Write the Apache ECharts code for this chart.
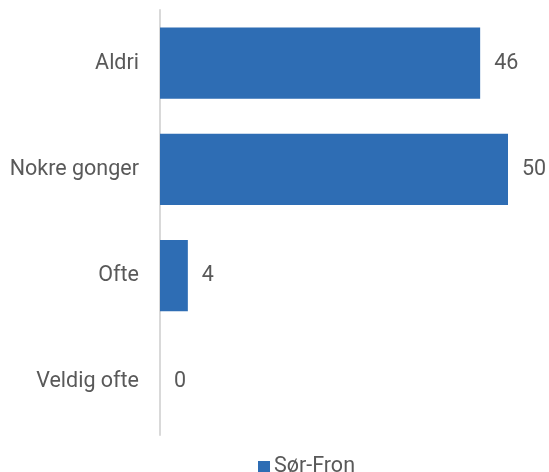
<!DOCTYPE html>
<html>
<head>
<meta charset="utf-8">
<script src="https://cdn.jsdelivr.net/npm/echarts@6/dist/echarts.min.js"></script>
<style>
  html, body { margin: 0; padding: 0; background: #fff; }
  #chart { width: 549px; height: 472px; }
</style>
</head>
<body>
<div id="chart"></div>
<script>
// svaralternativ, ovanfrå og ned
const categories = ['Aldri', 'Nokre gonger', 'Ofte', 'Veldig ofte'];
const values = [46, 50, 4, 0];
const seriesName = 'Sør-Fron';

const chart = echarts.init(document.getElementById('chart'));

const option = {
    animation: false,
    textStyle: {
        fontFamily: 'Roboto'
    },
    grid: {
        left: 160,
        right: 41,
        top: 10,
        bottom: 37
    },
    legend: {
        top: 451,
        left: 253,
        itemWidth: 12,
        itemHeight: 12,
        itemGap: 4,
        icon: 'rect',
        textStyle: {
            fontSize: 21.5,
            color: '#595959',
            padding: [0, 0, 0, -1]
        },
        data: [seriesName]
    },
    xAxis: {
        type: 'value',
        min: 0,
        max: 50,
        show: false
    },
    yAxis: {
        type: 'category',
        inverse: true,
        data: categories,
        axisLine: {
            lineStyle: { color: '#d9d9d9', width: 2 }
        },
        axisTick: { show: false },
        axisLabel: {
            margin: 21,
            fontSize: 21.5,
            color: '#595959'
        }
    },
    series: [{
        name: seriesName,
        type: 'bar',
        data: values,
        barWidth: '67%',
        itemStyle: { color: '#2e6db4' },
        label: {
            show: true,
            position: 'right',
            distance: 14,
            fontSize: 21.5,
            color: '#595959'
        }
    }]
};

chart.setOption(option);
</script>
</body>
</html>
